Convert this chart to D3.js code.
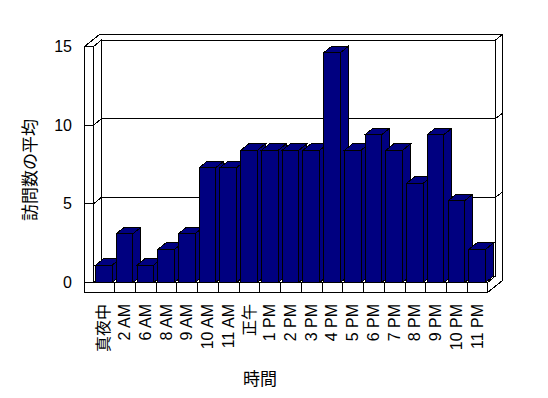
<!DOCTYPE html>
<head>
<meta charset="utf-8">
<style>
body { margin: 0; background: #fff; }
svg { display: block; }
.tick { font: 16px "Liberation Sans", Arial, "Noto Sans CJK JP", sans-serif; fill: #000; }
.title { font: 17px "Noto Sans CJK JP", sans-serif; fill: #000; }
.wall { fill: #fff; stroke: #000; stroke-width: 1; shape-rendering: crispEdges; }
.bar { fill: #000080; stroke: #000; stroke-width: 1; shape-rendering: crispEdges; }
.gl { fill: none; stroke: #000; shape-rendering: crispEdges; }
</style>
</head>
<body>
<svg width="548" height="398"></svg>
<script src="https://d3js.org/d3.v7.min.js"></script>
<script>

var hours = ["真夜中", "2 AM", "6 AM", "8 AM", "9 AM", "10 AM", "11 AM", "正午", "1 PM", "2 PM",
             "3 PM", "4 PM", "5 PM", "6 PM", "7 PM", "8 PM", "9 PM", "10 PM", "11 PM"];
var visits = [1.1, 3.1, 1.1, 2.1, 3.1, 7.3, 7.3, 8.4, 8.4, 8.4,
              8.4, 14.6, 8.4, 9.4, 8.4, 6.3, 9.4, 5.2, 2.1];
var yTicks = [0, 5, 10, 15];

var svg = d3.select("svg");

var left = 93.5, right = 487.5, outer = 84.5, floorBottom = 292.5;
var dx = 8, dy = -6.5;      // depth of floor / bars
var tx = 15, ty = -12;      // depth incl. wall thickness

var x = d3.scaleBand()
    .domain(hours)
    .range([left, right])
    .paddingInner(0.2)
    .paddingOuter(0.1);

var y = d3.scaleLinear()
    .domain([0, 15])
    .range([282.5, 46.5]);

var y0 = y(0), yTop = y(15);

function pts(a) { return a.map(function(p) { return p.join(","); }).join(" "); }

var walls = svg.append("g");

// top of left + back wall
walls.append("polygon").attr("class", "wall")
    .attr("points", pts([[outer, yTop], [left, yTop], [left + dx, yTop + dy], [right + dx, yTop + dy],
                         [right + tx, yTop + ty], [outer + tx, yTop + ty]]));
// left wall front edge
walls.append("polygon").attr("class", "wall")
    .attr("points", pts([[outer, yTop], [left, yTop], [left, y0], [outer, y0]]));
// left wall inner face
walls.append("polygon").attr("class", "wall")
    .attr("points", pts([[left, yTop], [left + dx, yTop + dy], [left + dx, y0 + dy], [left, y0]]));
// back wall
walls.append("polygon").attr("class", "wall")
    .attr("points", pts([[left + dx, yTop + dy], [right + dx, yTop + dy], [right + dx, y0 + dy], [left + dx, y0 + dy]]));
// right edge of back wall + floor
walls.append("polygon").attr("class", "wall")
    .attr("points", pts([[right + dx, yTop + dy], [right + tx, yTop + ty], [right + tx, floorBottom + ty],
                         [right, floorBottom], [right, y0], [right + dx, y0 + dy]]));
// floor top
walls.append("polygon").attr("class", "wall")
    .attr("points", pts([[left, y0], [right, y0], [right + dx, y0 + dy], [left + dx, y0 + dy]]));
// floor front
walls.append("polygon").attr("class", "wall")
    .attr("points", pts([[outer, y0], [right, y0], [right, floorBottom], [outer, floorBottom]]));

// gridlines
var grid = yTicks.filter(function(v) { return v > 0 && v < 15; });
walls.selectAll(".grid")
    .data(grid)
    .enter().append("polyline")
    .attr("class", "gl")
    .attr("points", function(v) {
      var g = y(v);
      return pts([[outer, g], [left, g], [left + dx, g + dy], [right + dx, g + dy], [right + tx, g + ty]]);
    });

// category dividers on floor front
walls.selectAll(".div")
    .data(hours.slice(1))
    .enter().append("line")
    .attr("class", "gl")
    .attr("x1", function(d, i) { return Math.round(left + (i + 1) * x.step()) + 0.5; })
    .attr("x2", function(d, i) { return Math.round(left + (i + 1) * x.step()) + 0.5; })
    .attr("y1", y0)
    .attr("y2", floorBottom);

// bars
var bw = x.bandwidth();
var bars = svg.append("g").selectAll("g")
    .data(hours.map(function(h, i) { return { h: h, v: visits[i] }; }))
    .enter().append("g");

bars.append("polygon").attr("class", "bar")
    .attr("points", function(d) {
      var a = x(d.h), t = y(d.v);
      return pts([[a + bw, t], [a + bw + dx, t + dy], [a + bw + dx, y0 + dy], [a + bw, y0]]);
    });
bars.append("polygon").attr("class", "bar")
    .attr("points", function(d) {
      var a = x(d.h), t = y(d.v);
      return pts([[a, t], [a + dx, t + dy], [a + bw + dx, t + dy], [a + bw, t]]);
    });
bars.append("rect").attr("class", "bar")
    .attr("x", function(d) { return x(d.h); })
    .attr("y", function(d) { return y(d.v); })
    .attr("width", bw)
    .attr("height", function(d) { return y0 - y(d.v); });

// y tick labels
svg.append("g").selectAll("text")
    .data(yTicks)
    .enter().append("text")
    .attr("class", "tick")
    .attr("x", 72)
    .attr("y", function(v) { return y(v); })
    .attr("text-anchor", "end")
    .attr("dominant-baseline", "central")
    .text(function(v) { return v; });

// x labels
svg.append("g").selectAll("text")
    .data(hours)
    .enter().append("text")
    .attr("class", "tick")
    .attr("transform", function(d) { return "translate(" + (x(d) + bw / 2) + ",304) rotate(-90)"; })
    .attr("text-anchor", "end")
    .attr("dominant-baseline", "central")
    .text(function(d) { return d; });

// axis titles
svg.append("text")
    .attr("class", "title")
    .attr("transform", "translate(28,170) rotate(-90)")
    .attr("text-anchor", "middle")
    .attr("dominant-baseline", "central")
    .text("訪問数の平均");

svg.append("text")
    .attr("class", "title")
    .attr("x", 260)
    .attr("y", 377)
    .attr("text-anchor", "middle")
    .attr("dominant-baseline", "central")
    .text("時間");

</script>
</body>
